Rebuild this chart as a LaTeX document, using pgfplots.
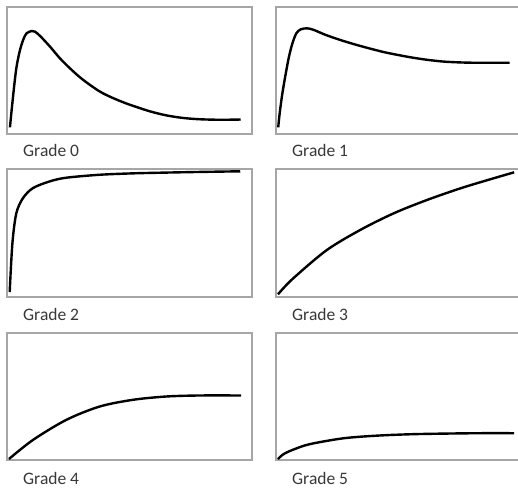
\documentclass[border=0pt]{standalone}
\usepackage{pgfplots}
\pgfplotsset{compat=1.18}
\usepackage{fontspec}
\setmainfont{Carlito}
\definecolor{boxgray}{HTML}{A6A6A6}
\definecolor{txtgray}{HTML}{383838}
\pgfplotsset{
  panel/.style={
    scale only axis, width=245pt, height=127pt,
    xmin=0, xmax=100, ymin=0, ymax=100,
    ticks=none,
    axis line style={boxgray, line width=1.1pt},
    anchor=north west,
  },
  curve/.style={black, line width=2.4pt, smooth, no markers},
}
\begin{document}
\begin{tikzpicture}
\useasboundingbox (0pt,0pt) rectangle (518pt,-489pt);

% row 1
\begin{axis}[panel, at={(7pt,-7pt)}]
\addplot[curve] coordinates {(1.2,5.2)(1.9,18.9)(2.9,37.3)(3.9,53)(5.3,66.1)(6.7,74.6)(8.0,79.3)(10.1,81.1)(11.4,80.6)(13.5,77.2)(17.6,68.7)(21.6,59.6)(25.7,51.7)(29.8,44.6)(33.9,38.6)(38,33.3)(42,29.4)(46.1,26)(50.2,23.0)(58.4,17.8)(65.2,14.6)(72,12.6)(78.8,11.6)(87,11.2)(95.4,11.4)};
\end{axis}
\begin{axis}[panel, at={(276pt,-7pt)}]
\addplot[curve] coordinates {(0.9,5.2)(1.5,16.3)(2.6,32)(4.0,47.8)(5.3,60.9)(6.7,71.4)(8.3,79.3)(10.1,82.4)(12.8,83.2)(15.5,81.9)(20.3,78)(27.1,73.5)(33.9,69.6)(40.7,66.1)(45.4,63.9)(54.3,60.6)(61,58.6)(67.9,57.1)(74.5,56.4)(81.5,56.1)(95.4,56.1)};
\end{axis}

% row 2
\begin{axis}[panel, height=128pt, at={(7pt,-169pt)}]
\addplot[curve] coordinates {(1.1,3.9)(2.2,41.9)(3.8,65.4)(6.5,77.2)(10.6,85.1)(17.4,90.3)(24.2,93.2)(37.8,95.5)(51.4,96.6)(65,97.2)(78.6,97.7)(95.2,98.2)};
\end{axis}
\begin{axis}[panel, height=128pt, at={(276pt,-169pt)}]
\addplot[curve] coordinates {(0.8,2.1)(6.7,14)(20.6,36.5)(34.4,52.4)(48.3,65.6)(62.2,76.2)(76.1,85.4)(90,93.4)(97.2,97.4)};
\end{axis}

% row 3
\begin{axis}[panel, at={(7pt,-333pt)}]
\addplot[curve] coordinates {(0.8,0.8)(10.6,15.8)(24.2,31.6)(37.8,42.1)(51.4,47.4)(65,50)(78.6,50.8)(95.6,50.8)};
\end{axis}
\begin{axis}[panel, at={(276pt,-333pt)}]
\addplot[curve] coordinates {(0.8,0.8)(3,4.5)(6.7,7.9)(13.6,12.4)(27.5,17.1)(41.4,19.2)(55.3,20.3)(69.2,20.8)(83,21.1)(97.2,21.1)};
\end{axis}

% labels
\begin{scope}[every node/.style={anchor=base west, inner sep=0pt, text=txtgray, font=\fontsize{17.5}{20}\selectfont}]
\node at (23pt,-157pt) {Grade 0};
\node at (292pt,-157pt) {Grade 1};
\node at (23pt,-320pt) {Grade 2};
\node at (292pt,-320pt) {Grade 3};
\node at (23pt,-484pt) {Grade 4};
\node at (292pt,-484pt) {Grade 5};
\end{scope}
\end{tikzpicture}
\end{document}
